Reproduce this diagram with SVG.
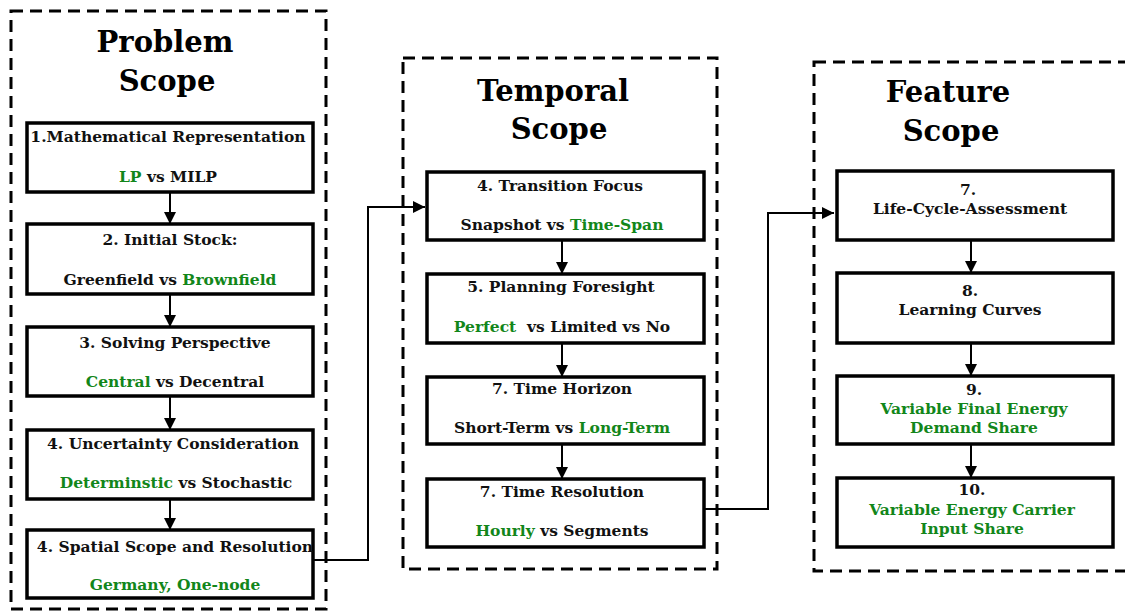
<svg xmlns="http://www.w3.org/2000/svg" width="1125" height="613" viewBox="0 0 1125 613">
<defs>
<style>
.scope{fill:none;stroke:#000;stroke-width:3;stroke-dasharray:12 7}
.node{fill:#fff;stroke:#000;stroke-width:3.5}
.title{font-family:"DejaVu Serif","Liberation Serif",serif;font-weight:bold;font-size:29px;fill:#000;text-anchor:middle}
.t{font-family:"DejaVu Serif","Liberation Serif",serif;font-weight:bold;font-size:15.5px;fill:#111;text-anchor:middle}
.g{fill:#12861a}
.conn{fill:none;stroke:#000;stroke-width:2}
</style>
<marker id="ah" viewBox="0 0 12 12" refX="12" refY="6" markerWidth="12" markerHeight="12" markerUnits="userSpaceOnUse" orient="auto">
<path d="M0,0 L12,6 L0,12 Z" fill="#000"/>
</marker>
</defs>
<rect width="1125" height="613" fill="#fff"/>

<g id="scopes">
<rect class="scope" x="11" y="11" width="315" height="598"/>
<rect class="scope" x="403" y="58" width="314" height="511"/>
<rect class="scope" x="814" y="62" width="320" height="509"/>
<text class="title" x="165" y="52">Problem</text>
<text class="title" x="167" y="91">Scope</text>
<text class="title" x="553" y="101">Temporal</text>
<text class="title" x="559" y="139">Scope</text>
<text class="title" x="948" y="102">Feature</text>
<text class="title" x="951" y="141">Scope</text>
</g>

<g id="connectors">
<line class="conn" x1="170" y1="192" x2="170" y2="224" marker-end="url(#ah)"/>
<line class="conn" x1="170" y1="294" x2="170" y2="327" marker-end="url(#ah)"/>
<line class="conn" x1="170" y1="396" x2="170" y2="430" marker-end="url(#ah)"/>
<line class="conn" x1="170" y1="499" x2="170" y2="530" marker-end="url(#ah)"/>
<polyline class="conn" points="313,560 368,560 368,207 425,207" marker-end="url(#ah)"/>
<line class="conn" x1="562" y1="240" x2="562" y2="274" marker-end="url(#ah)"/>
<line class="conn" x1="562" y1="343" x2="562" y2="377" marker-end="url(#ah)"/>
<line class="conn" x1="562" y1="444" x2="562" y2="479" marker-end="url(#ah)"/>
<polyline class="conn" points="704,509 768,509 768,213 834,213" marker-end="url(#ah)"/>
<line class="conn" x1="971" y1="240" x2="971" y2="273" marker-end="url(#ah)"/>
<line class="conn" x1="971" y1="343" x2="971" y2="376" marker-end="url(#ah)"/>
<line class="conn" x1="971" y1="444" x2="971" y2="478" marker-end="url(#ah)"/>
</g>

<g id="p1"><rect class="node" x="27" y="123" width="286" height="69"/>
<text class="t" x="168" y="142">1.Mathematical Representation</text>
<text class="t" x="168" y="182"><tspan class="g">LP</tspan> vs MILP</text></g>
<g id="p2"><rect class="node" x="27" y="224" width="286" height="70"/>
<text class="t" x="170" y="245">2. Initial Stock:</text>
<text class="t" x="170" y="285">Greenfield vs <tspan class="g">Brownfield</tspan></text></g>
<g id="p3"><rect class="node" x="27" y="327" width="286" height="69"/>
<text class="t" x="175" y="348">3. Solving Perspective</text>
<text class="t" x="175" y="387"><tspan class="g">Central</tspan> vs Decentral</text></g>
<g id="p4"><rect class="node" x="27" y="430" width="286" height="69"/>
<text class="t" x="173" y="449">4. Uncertainty Consideration</text>
<text class="t" x="176" y="488"><tspan class="g">Determinstic</tspan> vs Stochastic</text></g>
<g id="p5"><rect class="node" x="27" y="530" width="286" height="68"/>
<text class="t" x="175" y="552">4. Spatial Scope and Resolution</text>
<text class="t g" x="175" y="590">Germany, One-node</text></g>

<g id="t1"><rect class="node" x="427" y="172" width="277" height="68"/>
<text class="t" x="560" y="191">4. Transition Focus</text>
<text class="t" x="562" y="230">Snapshot vs <tspan class="g">Time-Span</tspan></text></g>
<g id="t2"><rect class="node" x="427" y="274" width="277" height="69"/>
<text class="t" x="561" y="292">5. Planning Foresight</text>
<text class="t" x="562" y="332"><tspan class="g">Perfect</tspan>&#160; vs Limited vs No</text></g>
<g id="t3"><rect class="node" x="427" y="377" width="277" height="67"/>
<text class="t" x="562" y="394">7. Time Horizon</text>
<text class="t" x="562" y="433">Short-Term vs <tspan class="g">Long-Term</tspan></text></g>
<g id="t4"><rect class="node" x="427" y="479" width="277" height="68"/>
<text class="t" x="562" y="497">7. Time Resolution</text>
<text class="t" x="562" y="536"><tspan class="g">Hourly</tspan> vs Segments</text></g>

<g id="f1"><rect class="node" x="837" y="171" width="276" height="69"/>
<text class="t" x="968" y="195">7.</text>
<text class="t" x="970" y="214">Life-Cycle-Assessment</text></g>
<g id="f2"><rect class="node" x="837" y="273" width="276" height="70"/>
<text class="t" x="970" y="296">8.</text>
<text class="t" x="970" y="315">Learning Curves</text></g>
<g id="f3"><rect class="node" x="837" y="376" width="276" height="68"/>
<text class="t" x="974" y="395">9.</text>
<text class="t g" x="974" y="414">Variable Final Energy</text>
<text class="t g" x="974" y="433">Demand Share</text></g>
<g id="f4"><rect class="node" x="837" y="478" width="276" height="69"/>
<text class="t" x="972" y="495">10.</text>
<text class="t g" x="972" y="515">Variable Energy Carrier</text>
<text class="t g" x="972" y="534">Input Share</text></g>
</svg>
